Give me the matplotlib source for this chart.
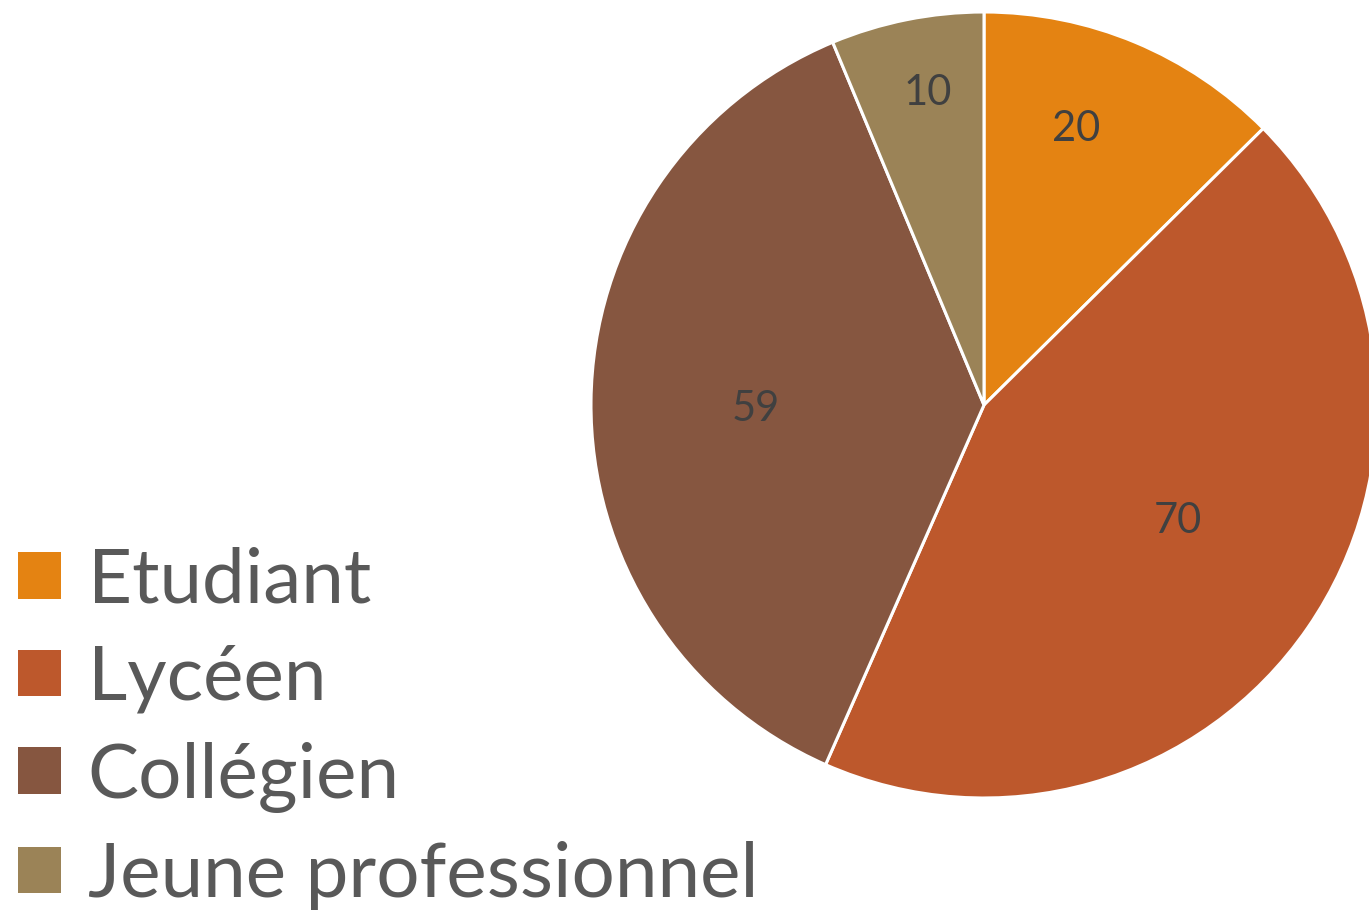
import matplotlib.pyplot as plt
import numpy as np
from matplotlib.patches import Patch

categories = ['Etudiant', 'Lycéen', 'Collégien', 'Jeune professionnel']
values = [20, 70, 59, 10]
colors = ['#E48312', '#BD582C', '#865640', '#9B8357']
# label placement (fraction of radius, angle shift in degrees)
label_dist = [0.75, 0.57, 0.58, 0.815]
label_shift = [4.4, 4.4, 0.6, -1.2]

plt.rcParams['font.family'] = ['Lato', 'DejaVu Sans']

fig = plt.figure(figsize=(13.69, 9.10), dpi=100)
ax = fig.add_axes([591 / 1369, 112 / 910, 786 / 1369, 786 / 910])

wedges, _ = ax.pie(values, colors=colors, startangle=90, counterclock=False,
                   wedgeprops=dict(edgecolor='white', linewidth=2.2))
for w in wedges:
    w.set_clip_on(False)

for w, v, d, s in zip(wedges, values, label_dist, label_shift):
    ang = np.deg2rad((w.theta1 + w.theta2) / 2 + s)
    ax.text(d * np.cos(ang), d * np.sin(ang), str(v), ha='center', va='center_baseline',
            fontsize=30, color='#404040')

ax.set_xlim(-1, 1)
ax.set_ylim(-1, 1)
ax.axis('off')

handles = [Patch(facecolor=c, edgecolor='none') for c in colors]
leg = fig.legend(handles, categories, loc='lower left', bbox_to_anchor=(18 / 1369, 0.0),
                 fontsize=55, frameon=False, handlelength=0.56, handleheight=0.56,
                 handletextpad=0.35, labelspacing=0.37, borderpad=0, borderaxespad=0)
for t in leg.get_texts():
    t.set_color('#595959')

fig.savefig('out.png', dpi=100)
